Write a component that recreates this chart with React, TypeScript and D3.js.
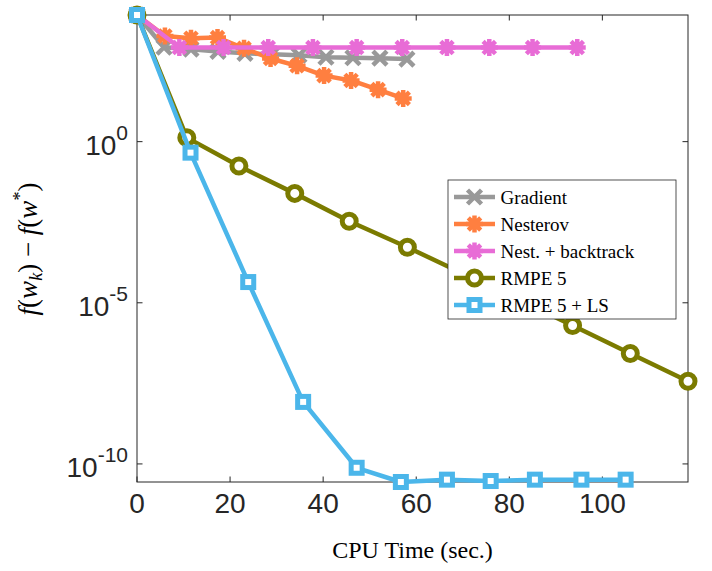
import React from "react";
import * as d3 from "d3";

const gradTime = [0, 5.8, 11.6, 17.4, 23.2, 29.0, 34.8, 40.6, 46.4, 52.2, 58.0];
const gradVal = [8.5e3, 850, 740, 630, 550, 515, 480, 415, 400, 390, 365];

const nestTime = [0, 6.0, 11.6, 17.3, 23.0, 28.7, 34.4, 40.2, 46.0, 51.8, 57.2];
const nestVal = [8.5e3, 1900, 1620, 1700, 790, 380, 225, 112, 79, 41, 22];

const backTime = [0, 9.1, 18.6, 28.2, 37.8, 47.2, 57.0, 66.6, 75.7, 85.0, 94.6];
const backVal = [8.5e3, 830, 830, 830, 830, 830, 830, 830, 830, 830, 830];

const rmpeTime = [0, 10.7, 21.9, 33.9, 45.6, 58.1, 69.9, 81.8, 93.6, 106.0, 118.4];
const rmpeVal = [8.5e3, 1.33, 0.175, 0.0248, 3.4e-3, 5.3e-4, 8.2e-5, 1.28e-5, 1.97e-6, 2.66e-7, 3.67e-8];

const lsTime = [0, 11.5, 23.9, 35.7, 47.2, 56.7, 66.6, 76.0, 85.5, 95.5, 105.0];
const lsVal = [8.5e3, 0.455, 4.4e-5, 8.4e-9, 7.6e-11, 2.75e-11, 3.25e-11, 2.95e-11, 3.25e-11, 3.25e-11, 3.25e-11];

const seriesNames = ["Gradient", "Nesterov", "Nest. + backtrack", "RMPE 5", "RMPE 5 + LS"];
const seriesColors = ["#999999", "#FF7F40", "#E86CD6", "#7B7B00", "#4BB6EA"];
const seriesMarkers = ["x", "star", "star", "circle", "square"];

const xTicks = [0, 20, 40, 60, 80, 100];
const yTicks = [1e0, 1e-5, 1e-10];
const yTickExp = ["0", "-5", "-10"];

const W = 712;
const H = 571;
const L = 137, R = 688, T = 15, B = 482;

function Marker({ type, x, y, color }: { type: string; x: number; y: number; color: string }) {
  if (type === "x") {
    return <path d={`M${x - 7},${y - 7}L${x + 7},${y + 7}M${x - 7},${y + 7}L${x + 7},${y - 7}`} stroke={color} strokeWidth={4.5} fill="none" />;
  }
  if (type === "star") {
    const a = 8.5, b = 6.2;
    return (
      <path
        d={`M${x - a},${y}L${x + a},${y}M${x},${y - a}L${x},${y + a}M${x - b},${y - b}L${x + b},${y + b}M${x - b},${y + b}L${x + b},${y - b}`}
        stroke={color}
        strokeWidth={4.5}
        fill="none"
      />
    );
  }
  if (type === "circle") {
    return <circle cx={x} cy={y} r={7} stroke={color} strokeWidth={5} fill="#fff" />;
  }
  return <rect x={x - 5.5} y={y - 5.5} width={11} height={11} stroke={color} strokeWidth={5} fill="#fff" />;
}

export default function App() {
  const times = [gradTime, nestTime, backTime, rmpeTime, lsTime];
  const vals = [gradVal, nestVal, backVal, rmpeVal, lsVal];
  const allT = times.flat();
  const allV = vals.flat();
  const x = d3.scaleLinear().domain([0, d3.max(allT) as number]).range([L, R]);
  const y = d3.scaleLog().domain([d3.min(allV) as number, d3.max(allV) as number]).range([B, T]);
  const line = d3
    .line<[number, number]>()
    .x((d) => x(d[0]))
    .y((d) => y(d[1]));

  const axisColor = "#262626";
  const tickLen = 5.5;
  const legX = 448, legY = 180, legW = 228, legH = 139;
  const rowY = (i: number) => legY + 17 + i * 27;

  return (
    <svg width={W} height={H} style={{ position: "absolute", left: 0, top: 0, background: "#fff" }}>
      <rect x={0} y={0} width={W} height={H} fill="#fff" />
      {/* axes box */}
      <rect x={L} y={T} width={R - L} height={B - T} fill="none" stroke={axisColor} strokeWidth={1} />
      {xTicks.map((t) => (
        <g key={"xt" + t}>
          <line x1={x(t)} x2={x(t)} y1={B} y2={B - tickLen} stroke={axisColor} />
          <line x1={x(t)} x2={x(t)} y1={T} y2={T + tickLen} stroke={axisColor} />
          <text x={x(t)} y={B + 31} textAnchor="middle" fontFamily="'Liberation Sans', Arial, sans-serif" fontSize={28} fill="#262626">
            {t}
          </text>
        </g>
      ))}
      {yTicks.map((t, i) => (
        <g key={"yt" + i}>
          <line x1={L} x2={L + tickLen} y1={y(t)} y2={y(t)} stroke={axisColor} />
          <line x1={R} x2={R - tickLen} y1={y(t)} y2={y(t)} stroke={axisColor} />
          <text x={128} y={y(t) + 13} textAnchor="end" fontFamily="'Liberation Sans', Arial, sans-serif" fontSize={28} fill="#262626">
            10
            <tspan dy={-15} fontSize={21}>
              {yTickExp[i]}
            </tspan>
          </text>
        </g>
      ))}
      {/* series */}
      {times.map((ts, si) => {
        const pts: [number, number][] = ts.map((t, k) => [t, vals[si][k]]);
        return (
          <g key={"s" + si}>
            <path d={line(pts) || ""} fill="none" stroke={seriesColors[si]} strokeWidth={4.5} strokeLinejoin="round" />
            {pts.map((p, k) => (
              <Marker key={k} type={seriesMarkers[si]} x={x(p[0])} y={y(p[1])} color={seriesColors[si]} />
            ))}
          </g>
        );
      })}
      {/* legend */}
      <rect x={legX} y={legY} width={legW} height={legH} fill="#fff" stroke={axisColor} strokeWidth={0.8} />
      {seriesNames.map((n, i) => (
        <g key={"lg" + i}>
          <line x1={454} x2={495} y1={rowY(i)} y2={rowY(i)} stroke={seriesColors[i]} strokeWidth={4.5} />
          <Marker type={seriesMarkers[i]} x={474.5} y={rowY(i)} color={seriesColors[i]} />
          <text x={500.5} y={rowY(i) + 6.5} fontFamily="'Liberation Serif', 'Times New Roman', serif" fontSize={19} fill="#000">
            {n}
          </text>
        </g>
      ))}
      {/* axis labels */}
      <text x={(L + R) / 2} y={558} textAnchor="middle" fontFamily="'Liberation Serif', 'Times New Roman', serif" fontSize={24} fill="#000">
        CPU Time (sec.)
      </text>
      <text
        transform={`translate(37, ${249}) rotate(-90)`}
        textAnchor="middle"
        fontFamily="'Liberation Serif', 'Times New Roman', serif"
        fontSize={27}
        fill="#000"
      >
        <tspan fontStyle="italic">f</tspan>
        <tspan>(</tspan>
        <tspan fontStyle="italic">w</tspan>
        <tspan fontStyle="italic" fontSize={18} dy={5}>k</tspan>
        <tspan dy={-5}>)</tspan>
        <tspan> − </tspan>
        <tspan fontStyle="italic">f</tspan>
        <tspan>(</tspan>
        <tspan fontStyle="italic">w</tspan>
        <tspan fontSize={18} dy={-11}>*</tspan>
        <tspan dy={11}>)</tspan>
      </text>
    </svg>
  );
}
